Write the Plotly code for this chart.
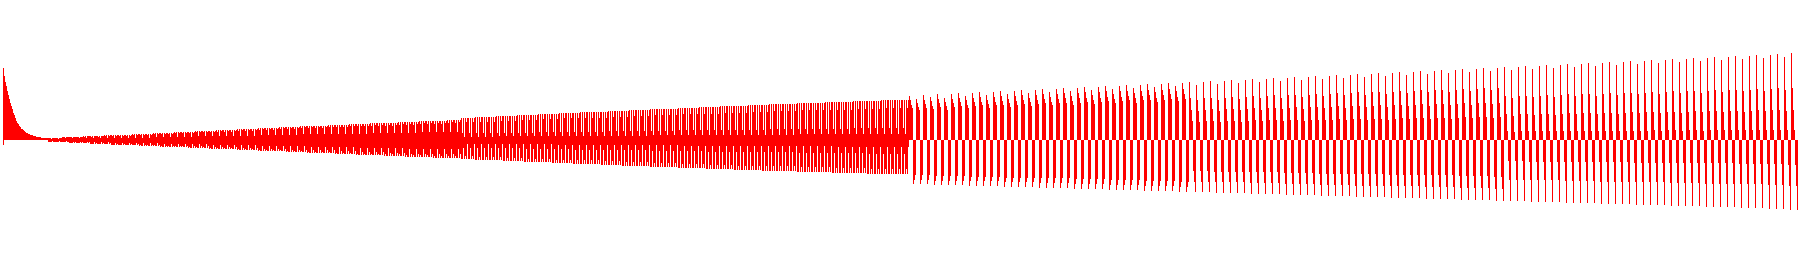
import plotly.graph_objects as go

# ---- data (values in the chart's y units) ----
# initial transient, one column each (starts at x = 3)
decay_upper = [72, 64, 58, 54, 49, 45, 41, 37, 34, 31, 27, 25, 22, 19, 17, 16, 14, 13, 11, 11,
               10, 9, 8, 7, 7, 6, 6, 5, 5, 5, 4, 4, 4, 3, 3, 3, 3, 3, 2, 2, 2, 2, 2, 2, 2]
decay_lower = [-5] + [0] * 44

# region A: dense band, cycles of 7 columns
pos_A = [2, 2, 3, 3, 3, 4, 4, 4, 5, 5, 5, 5, 6, 6, 6, 7, 7, 7, 8, 8,
         8, 9, 9, 9, 10, 10, 10, 11, 11, 11, 12, 12, 12, 13, 13, 13, 14, 14, 14, 14,
         15, 15, 15, 16, 16, 16, 17, 17, 17, 17, 18, 18, 18, 19, 19, 19, 19, 20, 20]
neg_A = [2, 2, 2, 3, 3, 3, 4, 4, 4, 5, 5, 5, 5, 6, 6, 6, 7, 7, 7, 7,
         8, 8, 8, 9, 9, 9, 9, 10, 10, 10, 11, 11, 11, 11, 12, 12, 12, 13, 13, 13,
         13, 14, 14, 14, 15, 15, 15, 15, 16, 16, 16, 17, 17, 17, 17, 18, 18, 18, 18]
shape_A_pos = [1.0, 0.85, 1.0, 0.4, 1.0, 0.9, 1.0]
shape_A_neg = [1.0, 0.9, 1.0, 1.0, 0.5, 1.0, 0.8]

# region B: thin spikes, cycles of 7 columns
pos_B = [22, 22, 23, 23, 23, 24, 24, 24, 25, 25, 25, 26, 26, 26, 27, 27, 27, 28, 28, 28,
         28, 29, 29, 29, 30, 30, 30, 31, 31, 31, 31, 32, 32, 32, 33, 33, 33, 34, 34, 34,
         34, 35, 35, 35, 36, 36, 36, 36, 37, 37, 37, 37, 38, 38, 38, 38, 39, 39, 39, 39,
         40, 40, 40, 40]
neg_B = [19, 19, 20, 20, 20, 20, 21, 21, 21, 22, 22, 22, 22, 23, 23, 23, 24, 24, 24, 24,
         25, 25, 25, 26, 26, 26, 26, 27, 27, 27, 27, 28, 28, 28, 28, 29, 29, 29, 29, 30,
         30, 30, 30, 31, 31, 31, 31, 31, 32, 32, 32, 32, 32, 33, 33, 33, 33, 33, 34, 34,
         34, 34, 34, 34]
shape_B_pos = [1.0, 0.3, 1.0, 0.15, 1.0, 0.8, 1.0]
shape_B_neg = [1.0, 1.0, 0.4, 1.0, 0.85, 1.0, 0.2]

# region C: cycles of 7 columns, shape changes along the way
pos_C = [44, 41, 45, 43, 46, 42, 46, 47, 44, 47, 48, 45, 48, 49, 46, 49, 50, 47, 50, 51,
         48, 51, 52, 49, 52, 53, 50, 53, 54, 51, 54, 55, 52, 55, 56, 53, 56, 57, 54, 57,
         58, 55, 58, 59, 56, 59, 60, 57, 60, 61, 58, 61, 62, 59, 62, 63, 60, 63, 64, 61,
         64, 65, 62, 65, 66, 63, 66, 67, 64, 67, 68, 65, 68, 69, 66, 69, 70, 67, 70, 71,
         68, 71, 72, 69, 72, 73, 70, 73, 74, 71, 74, 75, 72, 75, 76, 73, 76, 77, 74, 77,
         78, 75, 78, 79, 76, 79, 80, 77, 80, 81, 78, 81, 82, 79, 82, 83, 80, 83, 84, 81,
         84, 85, 82, 85, 86, 83, 87]
neg_C = [44, 44, 44, 45, 45, 45, 45, 45, 46, 46, 46, 46, 46, 47, 47, 47, 47, 47, 48, 48,
         48, 48, 48, 49, 49, 49, 49, 49, 50, 50, 50, 50, 50, 51, 51, 51, 51, 51, 52, 52,
         52, 52, 52, 53, 53, 53, 53, 53, 54, 54, 54, 54, 54, 55, 55, 55, 55, 55, 56, 56,
         56, 56, 56, 57, 57, 57, 57, 57, 58, 58, 58, 58, 58, 59, 59, 59, 59, 59, 60, 60,
         60, 60, 60, 61, 61, 61, 61, 61, 62, 62, 62, 62, 62, 63, 63, 63, 63, 63, 64, 64,
         64, 64, 64, 65, 65, 65, 65, 65, 66, 66, 66, 66, 66, 67, 67, 67, 67, 67, 68, 68,
         68, 68, 69, 69, 69, 70, 70]
shape_C1_pos = [1.0, 0.9, 0.8, 0.72, 0.0, 0.0, 0.0]
shape_C1_neg = [0.0, 0.0, 0.0, 0.0, 1.0, 0.9, 0.8]
shape_C2_pos = [1.0, 0.72, 0.52, 0.32, 0.0, 0.0, 0.0]
shape_C2_neg = [0.0, 0.0, 0.0, 0.0, 0.6, 0.8, 1.0]
shape_C3_pos = [1.0, 0.6, 0.35, 0.12, 0.0, 0.0, 0.0]
shape_C3_neg = [0.0, 0.0, 0.0, 0.0, 0.35, 0.65, 1.0]
c_switch = [40, 85]   # cycle index where the shape changes

start_x = 3
bar_color = "#ff0000"

# ---- build columns ----
upper = list(decay_upper)
lower = list(decay_lower)


def add_cycles(amps_p, amps_n, sp, sn):
    for a, b in zip(amps_p, amps_n):
        for p, n in zip(sp, sn):
            upper.append(round(a * p, 2))
            lower.append(-round(b * n, 2))


add_cycles(pos_A, neg_A, shape_A_pos, shape_A_neg)
add_cycles(pos_B, neg_B, shape_B_pos, shape_B_neg)
s1, s2 = c_switch
add_cycles(pos_C[:s1], neg_C[:s1], shape_C1_pos, shape_C1_neg)
add_cycles(pos_C[s1:s2], neg_C[s1:s2], shape_C2_pos, shape_C2_neg)
add_cycles(pos_C[s2:], neg_C[s2:], shape_C3_pos, shape_C3_neg)

xs = [start_x + i + 0.5 for i in range(len(upper))]

fig = go.Figure()
fig.add_trace(go.Bar(x=xs, y=upper, width=1, marker=dict(color=bar_color, line=dict(width=0))))
fig.add_trace(go.Bar(x=xs, y=lower, width=1, marker=dict(color=bar_color, line=dict(width=0))))
fig.update_layout(
    width=1800, height=280,
    margin=dict(l=0, r=0, t=0, b=0),
    barmode="relative", bargap=0,
    showlegend=False,
    paper_bgcolor="white", plot_bgcolor="white",
    xaxis=dict(range=[0, 1800], visible=False),
    yaxis=dict(range=[-140, 140], visible=False),
)
fig.write_html("out.html")
